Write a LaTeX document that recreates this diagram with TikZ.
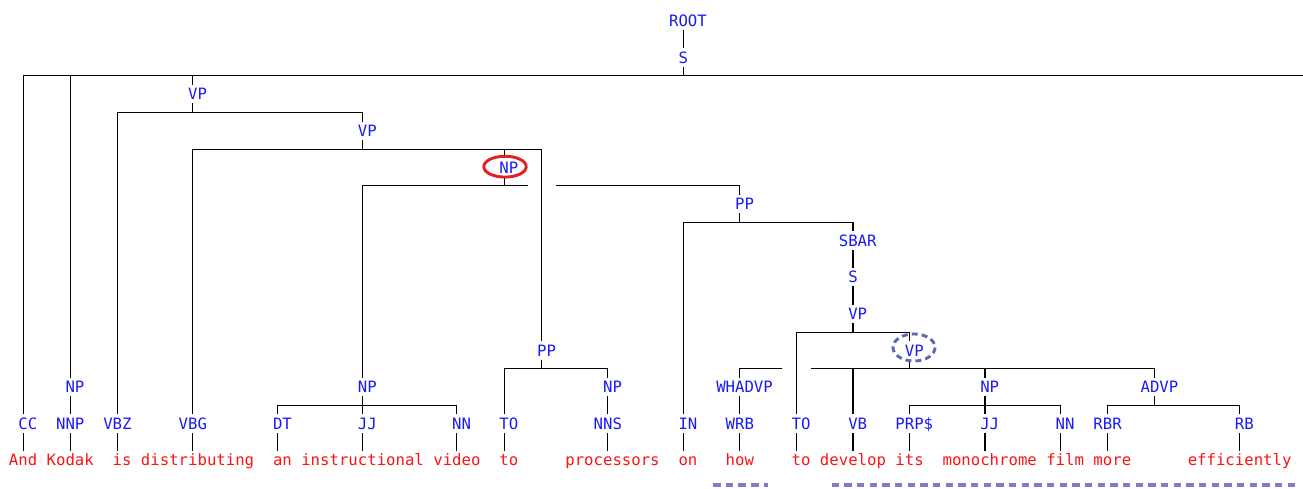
\documentclass[tikz,border=0pt]{standalone}
\usepackage{fontspec}
\setmonofont{DejaVu Sans Mono}
\definecolor{tagblue}{RGB}{25,25,250}
\definecolor{wordred}{RGB}{250,20,20}
\definecolor{markred}{RGB}{228,30,36}
\definecolor{markslate}{RGB}{95,105,170}
\definecolor{ulslate}{RGB}{125,125,195}
\newcommand{\pad}{\phantom{0}}

\begin{document}
\begin{tikzpicture}[x=7.0725pt, y=-13.725pt,
    lab/.style={font=\ttfamily\fontsize{11.75pt}{14pt}\selectfont, text=tagblue,
        inner xsep=0pt, inner ysep=2.25pt, text height=8.6pt, text depth=0pt},
    word/.style={lab, text=wordred},
    every path/.style={line width=0.8pt}]
    % one unit = one character column / one text line
    \useasboundingbox (-1.4528,-1.1475) rectangle (136.72,25.519);

    % --- Phrase labels ---
    \node[lab] (root) at (71,0) {\pad ROOT};
    \node[lab] (s) at (71,2) {S};
    \node[lab] (vpa) at (19,4) {\pad VP};
    \node[lab] (vpb) at (37,6) {\pad VP};
    \node[lab] (npc) at (52,8) {\pad NP};
    \node[lab] (ppa) at (77,10) {\pad PP};
    \node[lab] (sbar) at (89,12) {\pad SBAR};
    \node[lab] (sb) at (89,14) {S};
    \node[lab] (vpc) at (89,16) {\pad VP};
    \node[lab] (ppb) at (56,18) {\pad PP};
    \node[lab] (vpd) at (95,18) {\pad VP};
    \node[lab] (npa) at (6,20) {\pad NP};
    \node[lab] (npb) at (37,20) {\pad NP};
    \node[lab] (npd) at (63,20) {\pad NP};
    \node[lab] (whadvp) at (77,20) {\pad WHADVP};
    \node[lab] (npe) at (103,20) {\pad NP};
    \node[lab] (advp) at (121,20) {\pad ADVP};

    % --- POS tags ---
    \node[lab] (cc) at (1,22) {\pad CC};
    \node[lab] (nnp) at (6,22) {NNP};
    \node[lab] (vbz) at (11,22) {VBZ};
    \node[lab] (vbg) at (19,22) {VBG};
    \node[lab] (dt) at (28,22) {\pad DT};
    \node[lab] (jja) at (37,22) {\pad JJ};
    \node[lab] (nna) at (47,22) {\pad NN};
    \node[lab] (toa) at (52,22) {\pad TO};
    \node[lab] (nns) at (63,22) {NNS};
    \node[lab] (in) at (71,22) {\pad IN};
    \node[lab] (wrb) at (77,22) {WRB};
    \node[lab] (tob) at (83,22) {\pad TO};
    \node[lab] (vb) at (89,22) {\pad VB};
    \node[lab] (prp) at (95,22) {\pad PRP\$};
    \node[lab] (jjb) at (103,22) {\pad JJ};
    \node[lab] (nnb) at (111,22) {\pad NN};
    \node[lab] (rbr) at (116,22) {RBR};
    \node[lab] (rb) at (130,22) {\pad RB};

    % --- Words ---
    \node[word] (wand) at (1,24) {And};
    \node[word] (wkodak) at (6,24) {Kodak};
    \node[word] (wis) at (11,24) {\pad is};
    \node[word] (wdistr) at (19,24) {\pad distributing};
    \node[word] (wan) at (28,24) {\pad an};
    \node[word] (winstr) at (37,24) {instructional};
    \node[word] (wvideo) at (47,24) {video};
    \node[word] (wtoa) at (52,24) {\pad to};
    \node[word] (wproc) at (63,24) {\pad processors};
    \node[word] (won) at (71,24) {\pad on};
    \node[word] (whow) at (77,24) {how};
    \node[word] (wtob) at (83,24) {\pad to};
    \node[word] (wdev) at (89,24) {develop};
    \node[word] (wits) at (95,24) {its};
    \node[word] (wmono) at (103,24) {\pad monochrome};
    \node[word] (wfilm) at (111,24) {\pad film};
    \node[word] (wmore) at (116,24) {\pad more};
    \node[word] (weff) at (130,24) {efficiently};

    \coordinate (send) at (136.8,3);

    % --- Branches ---
    \draw (root) -- (s);
    \draw (s) -- ++(0,1) -| (cc);
    \draw (s) -- ++(0,1) -| (npa);
    \draw (s) -- ++(0,1) -| (vpa);
    \draw (s) -- ++(0,1) -- (send);
    \draw (vpa) -- ++(0,1) -| (vbz);
    \draw (vpa) -- ++(0,1) -| (vpb);
    \draw (vpb) -- ++(0,1) -| (vbg);
    \draw (vpb) -- ++(0,1) -| (npc);
    \draw (vpb) -- ++(0,1) -| (ppb);
    \draw (npc) -- ++(0,1) -| (npb);
    \draw (npc) -- ++(0,1) -- ++(2.5,0) ++(3,0) -| (ppa);
    \draw (ppa) -- ++(0,1) -| (in);
    \draw (ppa) -- ++(0,1) -| (sbar);
    \draw (sbar) -- (sb);
    \draw (sb) -- (vpc);
    \draw (vpc) -- ++(0,1) -| (tob);
    \draw (vpc) -- ++(0,1) -| (vpd);
    \draw (vpd) -- ++(0,1) -- ++(-10.5,0) ++(-3,0) -| (whadvp);
    \draw (vpd) -- ++(0,1) -| (vb);
    \draw (vpd) -- ++(0,1) -| (npe);
    \draw (vpd) -- ++(0,1) -| (advp);
    \draw (ppb) -- ++(0,1) -| (toa);
    \draw (ppb) -- ++(0,1) -| (npd);
    \draw (npa) -- (nnp);
    \draw (npb) -- ++(0,1) -| (dt);
    \draw (npb) -- (jja);
    \draw (npb) -- ++(0,1) -| (nna);
    \draw (npd) -- (nns);
    \draw (whadvp) -- (wrb);
    \draw (npe) -- ++(0,1) -| (prp);
    \draw (npe) -- (jjb);
    \draw (npe) -- ++(0,1) -| (nnb);
    \draw (advp) -- ++(0,1) -| (rbr);
    \draw (advp) -- ++(0,1) -| (rb);

    % tags down to words
    \foreach \tagn/\wordn in {cc/wand, nnp/wkodak, vbz/wis, vbg/wdistr, dt/wan,
        jja/winstr, nna/wvideo, toa/wtoa, nns/wproc, in/won, wrb/whow, tob/wtob,
        vb/wdev, prp/wits, jjb/wmono, nnb/wfilm, rbr/wmore, rb/weff}
        \draw (\tagn) -- (\wordn);

    % --- Marks ---
    \draw[markred, line width=2.2pt] (52.1,7.96) ellipse [x radius=2.25, y radius=0.57];
    \draw[markslate, line width=2.2pt, dash pattern=on 4.5pt off 3pt]
        (95.47,17.84) ellipse [x radius=2.23, y radius=0.74];
    \draw[ulslate, line width=2.5pt, dash pattern=on 5.6pt off 3.9pt]
        (74.16,25.355) -- (79.99,25.355);
    \draw[ulslate, line width=2.5pt, dash pattern=on 5.6pt off 3.9pt]
        (86.74,25.355) -- (135.87,25.355);
\end{tikzpicture}
\end{document}
